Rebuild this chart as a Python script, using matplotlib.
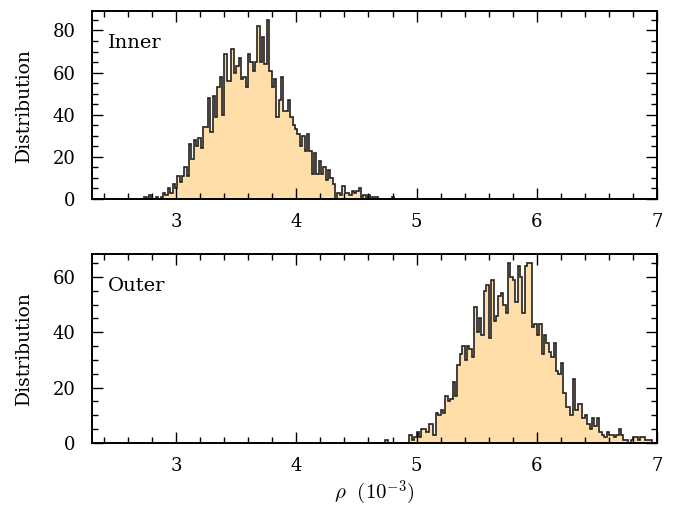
import numpy as np
import matplotlib
matplotlib.use("Agg")
import matplotlib.pyplot as plt
from matplotlib.ticker import MultipleLocator

plt.rcParams['font.family'] = ['DejaVu Serif']
plt.rcParams['mathtext.fontset'] = 'cm'

# ---- data ----
inner_start = 2.735
inner_width = 0.0196
inner_counts = [1, 0, 2, 0, 0, 1, 0, 1, 3, 2, 5, 3, 7, 5, 11, 8, 11, 15, 11, 26, 19, 28, 25, 29,
                24, 34, 34, 48, 32, 49, 39, 53, 58, 40, 69, 56, 56, 71, 60, 63, 67, 57, 58, 53,
                69, 65, 61, 65, 82, 65, 77, 64, 85,
                61, 53, 57, 39, 47, 58, 42, 42, 47, 39, 35, 33, 31, 25, 30, 23, 31, 23, 12, 22,
                12, 18, 12, 15, 9, 14, 10, 7, 0, 3, 2, 6, 3, 3, 2, 4, 3, 4, 5, 1, 2, 1, 2, 1, 1,
                1, 0, 0, 0, 0, 0, 0, 1]

outer_start = 4.72
outer_width = 0.02
outer_counts = [0, 1, 0, 0, 0, 0, 0, 0, 0, 0, 0, 3, 1, 2, 4, 2, 5, 5, 4, 7, 7, 3, 11, 10, 12,
                11, 17, 15, 16, 22, 17, 28, 32, 35, 30, 35, 34, 31, 49, 40, 45, 39, 55, 57, 38,
                59, 44, 46, 53, 54, 50, 47, 65, 60, 59, 51, 64, 60, 47, 64, 65, 65, 42, 43, 39,
                43, 32, 39, 36, 33, 31, 36, 26, 25, 29, 18, 13, 13, 10, 23, 12, 14, 14, 9, 10,
                7, 5, 9, 6, 9, 4, 3, 2, 4, 3, 3, 2, 3, 5, 3, 1, 1, 0, 1, 2, 2, 1, 2, 2, 1, 1, 1]

panel_labels = ["Inner", "Outer"]
x_ticks = [3, 4, 5, 6, 7]
fill_color = "#FFDEAA"

fig = plt.figure(figsize=(6.75, 5.09), dpi=100)
ax_top = fig.add_axes([92/675, 1-199/509, 565/675, 188/509])
ax_bot = fig.add_axes([92/675, 1-443/509, 565/675, 189/509])

panels = [(ax_top, inner_start, inner_width, inner_counts),
          (ax_bot, outer_start, outer_width, outer_counts)]

for (ax, start, width, counts), label in zip(panels, panel_labels):
    counts = np.asarray(counts, dtype=float)
    edges = start + width * np.arange(len(counts) + 1)
    ax.stairs(counts, edges, fill=True, color=fill_color, lw=0)
    ax.stairs(counts, edges, color='#222222', lw=1.2)
    ax.set_xlim(2.3, 7.0)
    ax.set_ylim(0, counts.max() * 1.05)
    ax.set_xticks(x_ticks)
    ax.xaxis.set_minor_locator(MultipleLocator(0.2))
    ax.yaxis.set_major_locator(MultipleLocator(20))
    ax.yaxis.set_minor_locator(MultipleLocator(5))
    ax.tick_params(which='both', direction='in', top=True, right=True, width=1.0,
                   labelsize=13, colors='black')
    ax.tick_params(which='major', length=8)
    ax.tick_params(axis='x', which='major', pad=10)
    ax.tick_params(axis='y', which='major', pad=12)
    ax.tick_params(which='minor', length=4)
    for s in ax.spines.values():
        s.set_linewidth(1.4)
    ax.set_ylabel("Distribution", fontsize=13.5, labelpad=14)
    ax.text(0.028, 0.83, label, transform=ax.transAxes, fontsize=14, va='center', ha='left')

ax_bot.set_xlabel(r"$\rho\ \ (10^{-3})$", fontsize=15, labelpad=3)

fig.savefig("out.png", dpi=100)
